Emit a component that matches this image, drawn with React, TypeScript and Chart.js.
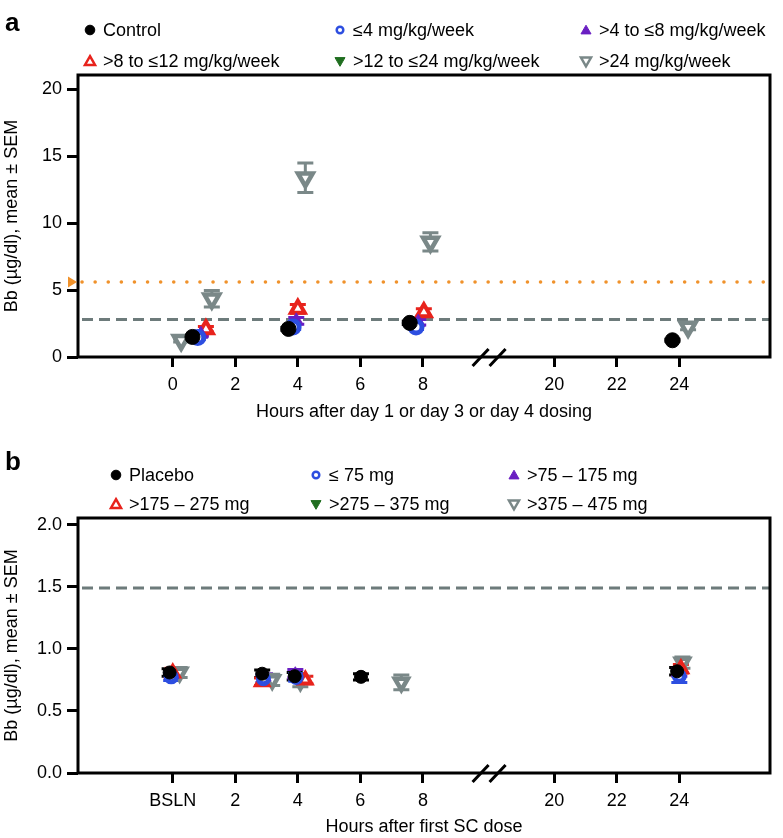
import React, { useEffect, useRef } from "react";
import { Chart, registerables } from "chart.js";
Chart.register(...registerables);

const FONT = "'Liberation Sans', Arial, Helvetica, sans-serif";

// ---- axis break: hours >= 20 are drawn right after the break ----
const BREAK_HOUR = 20;
const BREAK_POS = 12.2;
const BREAK_MARK_POS = 10.1;
const hourToPos = (h: number) => (h >= 15 ? h - BREAK_HOUR + BREAK_POS : h);

const xTickHours = [0, 2, 4, 6, 8, 20, 22, 24];
const xTickLabelsA = ["0", "2", "4", "6", "8", "20", "22", "24"];
const xTickLabelsB = ["BSLN", "2", "4", "6", "8", "20", "22", "24"];
const yTicksA = [0, 5, 10, 15, 20];
const yTickLabelsA = ["0", "5", "10", "15", "20"];
const yTicksB = [0, 0.5, 1, 1.5, 2];
const yTickLabelsB = ["0.0", "0.5", "1.0", "1.5", "2.0"];

// ---- panel a data (hours, mean, SEM) ----
const aControlHours = [0.63, 3.7, 7.58, 23.78];
const aControlMean = [1.5, 2.1, 2.55, 1.25];
const aControlSem = [0.1, 0.1, 0.12, 0.08];
const aLe4Hours = [0.8, 3.85, 7.78];
const aLe4Mean = [1.45, 2.25, 2.25];
const aLe4Sem = [0.15, 0.2, 0.2];
const aGt4Hours = [0.9, 3.95, 7.85];
const aGt4Mean = [1.7, 2.7, 2.6];
const aGt4Sem = [0.15, 0.25, 0.2];
const aGt8Hours = [1.06, 4.0, 8.03];
const aGt8Mean = [2.07, 3.6, 3.35];
const aGt8Sem = [0.2, 0.33, 0.25];
const aGt12Hours: number[] = [];
const aGt12Mean: number[] = [];
const aGt12Sem: number[] = [];
const aGt24Hours = [0.27, 1.25, 4.24, 8.24, 24.28];
const aGt24Mean = [1.25, 4.35, 13.4, 8.6, 2.25];
const aGt24Sem = [0.12, 0.62, 1.1, 0.68, 0.22];
const aUlnLine = 2.8;
const aOrangeLine = 5.6;

// ---- panel b data ----
const bPlaceboHours = [-0.1, 2.86, 3.9, 6.02, 23.93];
const bPlaceboMean = [0.81, 0.8, 0.78, 0.775, 0.82];
const bPlaceboSem = [0.03, 0.03, 0.03, 0.025, 0.03];
const bLe75Hours = [-0.05, 2.9, 3.95, 24.0];
const bLe75Mean = [0.775, 0.76, 0.77, 0.78];
const bLe75Sem = [0.03, 0.03, 0.03, 0.05];
const bGt75Hours = [0.0, 2.95, 3.92, 24.0];
const bGt75Mean = [0.79, 0.77, 0.8, 0.81];
const bGt75Sem = [0.03, 0.03, 0.035, 0.03];
const bGt175Hours = [0.0, 2.86, 4.24, 24.05];
const bGt175Mean = [0.805, 0.735, 0.75, 0.84];
const bGt175Sem = [0.04, 0.03, 0.03, 0.035];
const bGt275Hours: number[] = [];
const bGt275Mean: number[] = [];
const bGt275Sem: number[] = [];
const bGt375Hours = [0.22, 3.18, 4.08, 7.31, 24.1];
const bGt375Mean = [0.81, 0.75, 0.74, 0.73, 0.89];
const bGt375Sem = [0.04, 0.045, 0.045, 0.06, 0.045];
const bUlnLine = 1.49;

const labelsA = ["Control", "≤4 mg/kg/week", ">4 to ≤8 mg/kg/week", ">8 to ≤12 mg/kg/week", ">12 to ≤24 mg/kg/week", ">24 mg/kg/week"];
const labelsB = ["Placebo", "≤ 75 mg", ">75 – 175 mg", ">175 – 275 mg", ">275 – 375 mg", ">375 – 475 mg"];

const BLACK = "#000000";
const BLUE = "#2d4ee0";
const PURPLE = "#6a1fc2";
const RED = "#e8231c";
const GREEN = "#1f6e1f";
const GREY = "#7a8888";
const ORANGE = "#f0922b";
const DASH_GREY = "#6d7b7b";

type Marker = { style: string; rot: number; fill: string; stroke: string; bw: number; r: number };
const markers: Marker[] = [
  { style: "circle", rot: 0, fill: BLACK, stroke: BLACK, bw: 1, r: 7.5 },
  { style: "circle", rot: 0, fill: "#ffffff", stroke: BLUE, bw: 5, r: 6 },
  { style: "triangle", rot: 0, fill: PURPLE, stroke: PURPLE, bw: 1, r: 8 },
  { style: "triangle", rot: 0, fill: "#ffffff", stroke: RED, bw: 4, r: 8 },
  { style: "triangle", rot: 180, fill: GREEN, stroke: GREEN, bw: 1, r: 8 },
  { style: "triangle", rot: 180, fill: "#ffffff", stroke: GREY, bw: 4.5, r: 8.5 },
];

function buildDatasets(labels: string[], series: [number[], number[], number[]][]) {
  return series.map(([hours, mean, sem], i) => {
    const m = markers[i];
    return {
      label: labels[i],
      data: hours.map((h, j) => ({ x: hourToPos(h), y: mean[j], sem: sem[j] })),
      pointStyle: m.style,
      pointRotation: m.rot,
      pointRadius: m.r,
      pointHoverRadius: m.r,
      pointBackgroundColor: m.fill,
      pointBorderColor: m.stroke,
      pointBorderWidth: m.bw,
      borderColor: m.stroke,
      backgroundColor: m.fill,
      showLine: false,
    };
  });
}

function drawMarker(ctx: CanvasRenderingContext2D, m: Marker, x: number, y: number, r: number, bw: number) {
  ctx.save();
  ctx.fillStyle = m.fill;
  ctx.strokeStyle = m.stroke;
  ctx.lineWidth = bw;
  ctx.beginPath();
  if (m.style === "circle") {
    ctx.arc(x, y, r, 0, Math.PI * 2);
  } else {
    let a = (m.rot * Math.PI) / 180;
    ctx.moveTo(x + Math.sin(a) * r, y - Math.cos(a) * r);
    a += (2 * Math.PI) / 3;
    ctx.lineTo(x + Math.sin(a) * r, y - Math.cos(a) * r);
    a += (2 * Math.PI) / 3;
    ctx.lineTo(x + Math.sin(a) * r, y - Math.cos(a) * r);
    ctx.closePath();
  }
  ctx.fill();
  ctx.stroke();
  ctx.restore();
}

const overlayPlugin = {
  id: "overlay",
  beforeDatasetsDraw(chart: any, _args: any, opts: any) {
    const { ctx, chartArea: ca } = chart;
    const ys = chart.scales.y;
    ctx.save();
    (opts.refLines || []).forEach((rl: any) => {
      const py = ys.getPixelForValue(rl.value);
      ctx.beginPath();
      ctx.strokeStyle = rl.color;
      ctx.lineWidth = rl.width;
      ctx.lineCap = rl.cap || "butt";
      ctx.setLineDash(rl.dash);
      ctx.moveTo(ca.left + 4, py);
      ctx.lineTo(ca.right, py);
      ctx.stroke();
    });
    ctx.setLineDash([]);
    ctx.lineCap = "butt";
    chart.data.datasets.forEach((ds: any, i: number) => {
      const meta = chart.getDatasetMeta(i);
      ds.data.forEach((pt: any, j: number) => {
        const el = meta.data[j];
        if (!el) return;
        const x = el.x;
        const t = ys.getPixelForValue(pt.y + pt.sem);
        const b = ys.getPixelForValue(pt.y - pt.sem);
        ctx.strokeStyle = ds.borderColor;
        ctx.lineWidth = 3;
        ctx.beginPath();
        ctx.moveTo(x, t);
        ctx.lineTo(x, b);
        ctx.moveTo(x - 8, t);
        ctx.lineTo(x + 8, t);
        ctx.moveTo(x - 8, b);
        ctx.lineTo(x + 8, b);
        ctx.stroke();
      });
    });
    ctx.restore();
  },
  afterDraw(chart: any, _args: any, opts: any) {
    const { ctx, chartArea: ca } = chart;
    const xs = chart.scales.x;
    const ys = chart.scales.y;
    ctx.save();
    ctx.strokeStyle = "#000";
    ctx.lineWidth = 3;
    ctx.strokeRect(ca.left, ca.top, ca.right - ca.left, ca.bottom - ca.top);
    const bx = xs.getPixelForValue(BREAK_MARK_POS);
    ctx.beginPath();
    [-8, 9].forEach((dx) => {
      ctx.moveTo(bx + dx - 8, ca.bottom + 9);
      ctx.lineTo(bx + dx + 8, ca.bottom - 8);
    });
    ctx.stroke();
    if (opts.leftMarker != null) {
      const py = ys.getPixelForValue(opts.leftMarker);
      ctx.fillStyle = ORANGE;
      ctx.beginPath();
      ctx.moveTo(ca.left - 1, py);
      ctx.lineTo(ca.left - 10, py - 5.5);
      ctx.lineTo(ca.left - 10, py + 5.5);
      ctx.closePath();
      ctx.fill();
    }
    ctx.fillStyle = "#000";
    ctx.font = `bold 26px ${FONT}`;
    ctx.textBaseline = "middle";
    ctx.textAlign = "left";
    ctx.fillText(opts.letter, opts.letterX, opts.letterY);
    ctx.font = `18px ${FONT}`;
    chart.data.datasets.forEach((ds: any, i: number) => {
      const col = i % 3;
      const row = Math.floor(i / 3);
      const mx = opts.legendX[col];
      const my = opts.legendY[row];
      const m = markers[i];
      const isOpen = m.fill === "#ffffff";
      drawMarker(ctx, m, mx, my + (m.style === "triangle" ? (m.rot ? -0.5 : 1) : 0), m.style === "circle" ? (isOpen ? 3.3 : 4.8) : 5.8, isOpen ? 2.5 : 1);
      ctx.fillStyle = "#000";
      ctx.fillText(ds.label, mx + 13, my + 1);
    });
    ctx.restore();
  },
};

function makeConfig(p: {
  datasets: any[];
  yMax: number;
  yTicks: number[];
  yTickLabels: string[];
  xTickLabels: string[];
  xTitle: string;
  topPad: number;
  xAxisHeight: number;
  xTitlePad: number;
  plugin: any;
}) {
  return {
    type: "scatter",
    data: { datasets: p.datasets },
    options: {
      animation: false,
      responsive: false,
      devicePixelRatio: 1,
      layout: { padding: { left: 0, right: 9, top: p.topPad, bottom: 0 } },
      plugins: { legend: { display: false }, tooltip: { enabled: false }, overlay: p.plugin },
      scales: {
        x: {
          type: "linear",
          min: -3.03,
          max: 19.1,
          afterBuildTicks: (s: any) => {
            s.ticks = xTickHours.map((h) => ({ value: hourToPos(h) }));
          },
          afterFit: (s: any) => {
            s.height = p.xAxisHeight;
          },
          ticks: {
            autoSkip: false,
            maxRotation: 0,
            padding: 7,
            color: "#000",
            font: { family: FONT, size: 18 },
            callback: (_v: any, i: number) => p.xTickLabels[i],
          },
          grid: { drawOnChartArea: false, drawTicks: true, tickLength: 10, tickWidth: 3, tickColor: "#000", color: "#000" },
          border: { display: false },
          title: {
            display: true,
            text: p.xTitle,
            color: "#000",
            font: { family: FONT, size: 18 },
            padding: { top: 0, bottom: p.xTitlePad },
          },
        },
        y: {
          type: "linear",
          min: 0,
          max: p.yMax,
          afterBuildTicks: (s: any) => {
            s.ticks = p.yTicks.map((v) => ({ value: v }));
          },
          afterFit: (s: any) => {
            s.width = 78;
          },
          ticks: {
            padding: 5,
            color: "#000",
            font: { family: FONT, size: 18 },
            callback: (_v: any, i: number) => p.yTickLabels[i],
          },
          grid: { drawOnChartArea: false, drawTicks: true, tickLength: 11, tickWidth: 3, tickColor: "#000", color: "#000" },
          border: { display: false },
          title: {
            display: true,
            text: "Bb (µg/dl), mean ± SEM",
            color: "#000",
            font: { family: FONT, size: 18 },
            padding: { top: 1, bottom: 0 },
          },
        },
      },
    },
    plugins: [overlayPlugin],
  } as any;
}

const H_A = 445;
const H_B = 393;

export default function App() {
  const refA = useRef<HTMLCanvasElement>(null);
  const refB = useRef<HTMLCanvasElement>(null);

  useEffect(() => {
    document.body.style.margin = "0";
    const dsA = buildDatasets(labelsA, [
      [aControlHours, aControlMean, aControlSem],
      [aLe4Hours, aLe4Mean, aLe4Sem],
      [aGt4Hours, aGt4Mean, aGt4Sem],
      [aGt8Hours, aGt8Mean, aGt8Sem],
      [aGt12Hours, aGt12Mean, aGt12Sem],
      [aGt24Hours, aGt24Mean, aGt24Sem],
    ]);
    const dsB = buildDatasets(labelsB, [
      [bPlaceboHours, bPlaceboMean, bPlaceboSem],
      [bLe75Hours, bLe75Mean, bLe75Sem],
      [bGt75Hours, bGt75Mean, bGt75Sem],
      [bGt175Hours, bGt175Mean, bGt175Sem],
      [bGt275Hours, bGt275Mean, bGt275Sem],
      [bGt375Hours, bGt375Mean, bGt375Sem],
    ]);
    dsB.forEach((d: any) => {
      d.pointRadius = d.pointRadius - 1;
    });
    const chartA = new Chart(
      refA.current as HTMLCanvasElement,
      makeConfig({
        datasets: dsA,
        yMax: 21.07,
        yTicks: yTicksA,
        yTickLabels: yTickLabelsA,
        xTickLabels: xTickLabelsA,
        xTitle: "Hours after day 1 or day 3 or day 4 dosing",
        topPad: 75,
        xAxisHeight: 88,
        xTitlePad: 22,
        plugin: {
          letter: "a",
          letterX: 5,
          letterY: 24,
          legendX: [90, 340, 586],
          legendY: [30, 61],
          leftMarker: aOrangeLine,
          refLines: [
            { value: aOrangeLine, color: ORANGE, width: 3.5, dash: [0.1, 13], cap: "round" },
            { value: aUlnLine, color: DASH_GREY, width: 3, dash: [11, 6] },
          ],
        },
      })
    );
    const chartB = new Chart(
      refB.current as HTMLCanvasElement,
      makeConfig({
        datasets: dsB,
        yMax: 2.055,
        yTicks: yTicksB,
        yTickLabels: yTickLabelsB,
        xTickLabels: xTickLabelsB,
        xTitle: "Hours after first SC dose",
        topPad: 73,
        xAxisHeight: 65,
        xTitlePad: 0,
        plugin: {
          letter: "b",
          letterX: 5,
          letterY: 18,
          legendX: [116, 316, 514],
          legendY: [30, 59],
          leftMarker: null,
          refLines: [{ value: bUlnLine, color: DASH_GREY, width: 3, dash: [11, 6] }],
        },
      })
    );
    return () => {
      chartA.destroy();
      chartB.destroy();
    };
  }, []);

  return (
    <div style={{ position: "relative", width: 783, height: 838, background: "#fff", fontFamily: FONT }}>
      <canvas ref={refA} width={783} height={H_A} style={{ position: "absolute", left: 0, top: 0, width: 783, height: H_A }} />
      <canvas ref={refB} width={783} height={H_B} style={{ position: "absolute", left: 0, top: H_A, width: 783, height: H_B }} />
    </div>
  );
}
